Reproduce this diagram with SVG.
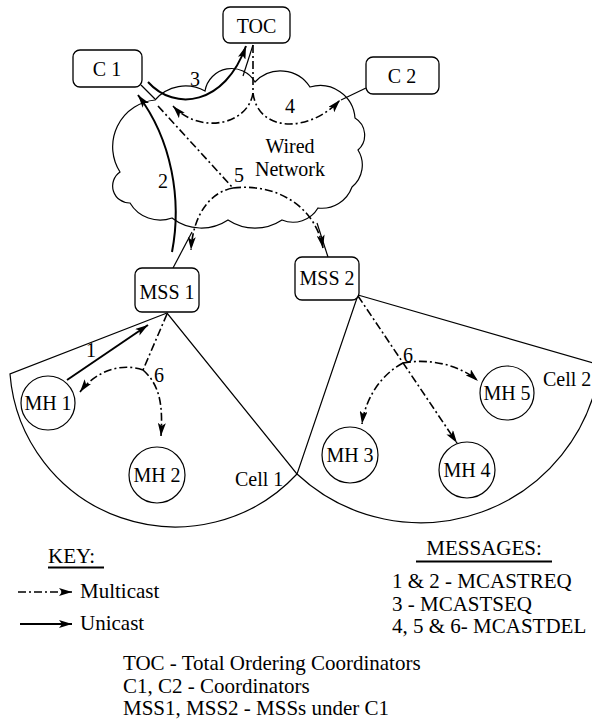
<svg xmlns="http://www.w3.org/2000/svg" width="592" height="727" viewBox="0 0 592 727">
<style>
text{font-family:"Liberation Serif","Times New Roman",serif;fill:#000}
.lbl{font-size:20px;text-anchor:middle}
.leg{font-size:21px}
.box{fill:#fff;stroke:#000;stroke-width:1.3}
.mh{fill:none;stroke:#000;stroke-width:1.2}
.cell{fill:none;stroke:#000;stroke-width:1.2}
.thin{fill:none;stroke:#000;stroke-width:1.2}
.uni{fill:none;stroke:#000;stroke-width:2}
.multi{fill:none;stroke:#000;stroke-width:1.6;stroke-dasharray:8 3 2 3}
</style>
<defs>
<marker id="ah" viewBox="0 0 13 8" refX="13" refY="4" markerWidth="13" markerHeight="8" markerUnits="userSpaceOnUse" orient="auto">
<path d="M0,0 L13,4 L0,8 L3,4 Z" fill="#000"/>
</marker>
</defs>
<rect width="592" height="727" fill="#fff"/>

<g id="cell1"><path class="cell" d="M167,313 L10,374 A166,166 0 0 0 297,474 Z"/>
<text class="leg" x="235" y="486" style="font-size:20px">Cell 1</text></g>
<g id="cell2"><path class="cell" d="M358,295 L600,365 A181,181 0 0 1 297,474 Z"/>
<text class="leg" x="543" y="386" style="font-size:20px">Cell 2</text></g>

<g id="cloud"><path class="thin" d="M130,203 A17,17 0 0 1 120,172 A47,47 0 0 1 155,100 A40,40 0 0 1 205,91 A27,27 0 0 1 255,82 A35,35 0 0 1 310,87 A35,35 0 0 1 355,118 A20,20 0 0 1 358,150 A28.5,28.5 0 0 1 352,187 A32,32 0 0 1 318,208 A29,29 0 0 1 282,220 A49,49 0 0 1 228,220 A48,48 0 0 1 172,218 A35,35 0 0 1 130,203 Z"/>
<text class="lbl" x="290" y="153">Wired</text>
<text class="lbl" x="290" y="176">Network</text></g>

<g id="connectors">
<!-- node to cloud links -->
<line class="thin" x1="141" y1="85" x2="155" y2="99"/>
<line class="thin" x1="253" y1="45" x2="243" y2="76"/>
<line class="thin" x1="366" y1="88" x2="341" y2="100"/>
<line class="thin" x1="173" y1="268" x2="192" y2="232"/>
<line class="thin" x1="328" y1="257" x2="317" y2="223"/>
<!-- 1 -->
<line class="uni" x1="67" y1="380" x2="148" y2="325" marker-end="url(#ah)"/>
<text class="lbl" x="91" y="357">1</text>
<!-- 2 -->
<path class="uni" d="M172,252 C182,200 172,140 138,95" marker-end="url(#ah)"/>
<text class="lbl" x="163" y="188">2</text>
<!-- 3 -->
<path class="uni" d="M148,82 C175,112 225,105 246,46" marker-end="url(#ah)"/>
<text class="lbl" x="195" y="86">3</text>
<!-- 4 -->
<path class="multi" d="M253,45 L253,93"/>
<path class="multi" d="M253,93 C248,125 200,135 173,106" marker-end="url(#ah)"/>
<path class="multi" d="M253,93 C258,133 310,133 340,100" marker-end="url(#ah)"/>
<text class="lbl" x="290" y="113">4</text>
<!-- 5 -->
<path class="multi" d="M158,106 L233,188"/>
<path class="multi" d="M233,188 C210,192 193,215 191,250" marker-end="url(#ah)"/>
<path class="multi" d="M233,188 C275,183 315,205 323,248" marker-end="url(#ah)"/>
<text class="lbl" x="239" y="182">5</text>
<!-- 6 (MSS1) -->
<path class="multi" d="M167,314 L143,370"/>
<path class="multi" d="M143,370 C120,362 95,372 80,392" marker-end="url(#ah)"/>
<path class="multi" d="M143,370 C160,385 163,405 161,436" marker-end="url(#ah)"/>
<text class="lbl" x="159" y="382">6</text>
<!-- 6 (MSS2) -->
<path class="multi" d="M358,296 L457,443" marker-end="url(#ah)"/>
<path class="multi" d="M403,363 C380,375 365,400 362,424" marker-end="url(#ah)"/>
<path class="multi" d="M403,363 C430,358 460,365 478,381" marker-end="url(#ah)"/>
<text class="lbl" x="408" y="362">6</text>
</g>

<g id="TOC"><rect class="box" x="223" y="7" width="67" height="36" rx="7"/><text class="lbl" x="256.5" y="33">TOC</text></g>
<g id="C1"><rect class="box" x="73" y="50" width="69" height="37" rx="7"/><text class="lbl" x="107" y="76">C 1</text></g>
<g id="C2"><rect class="box" x="366" y="57" width="73" height="37" rx="7"/><text class="lbl" x="402" y="83">C 2</text></g>
<g id="MSS1"><rect class="box" x="135" y="268" width="64" height="44" rx="7"/><text class="lbl" x="167" y="299">MSS 1</text></g>
<g id="MSS2"><rect class="box" x="295" y="257" width="64" height="43" rx="7"/><text class="lbl" x="327" y="285">MSS 2</text></g>
<g id="MH1"><circle class="mh" cx="48" cy="403" r="27"/><text class="lbl" x="48" y="410">MH 1</text></g>
<g id="MH2"><circle class="mh" cx="157" cy="475" r="28"/><text class="lbl" x="157" y="482">MH 2</text></g>
<g id="MH3"><circle class="mh" cx="350" cy="455" r="28"/><text class="lbl" x="350" y="462">MH 3</text></g>
<g id="MH4"><circle class="mh" cx="467" cy="470" r="28"/><text class="lbl" x="467" y="477">MH 4</text></g>
<g id="MH5"><circle class="mh" cx="507" cy="393" r="27"/><text class="lbl" x="507" y="400">MH 5</text></g>

<g id="key">
<text class="leg" x="48" y="563">KEY:</text>
<line x1="48" y1="567.5" x2="104" y2="567.5" stroke="#000" stroke-width="2"/>
<line class="multi" x1="18" y1="592" x2="72" y2="592" marker-end="url(#ah)"/>
<text class="leg" x="80" y="598">Multicast</text>
<line class="uni" x1="20" y1="624" x2="72" y2="624" marker-end="url(#ah)"/>
<text class="leg" x="80" y="630">Unicast</text>
</g>
<g id="messages">
<text class="leg" x="484" y="555" text-anchor="middle">MESSAGES:</text>
<line x1="416" y1="561.5" x2="552" y2="561.5" stroke="#000" stroke-width="2"/>
<text class="leg" x="392" y="588">1 &amp; 2 - MCASTREQ</text>
<text class="leg" x="392" y="611">3 - MCASTSEQ</text>
<text class="leg" x="392" y="633">4, 5 &amp; 6- MCASTDEL</text>
</g>
<g id="legend">
<text class="leg" x="123" y="670">TOC - Total Ordering Coordinators</text>
<text class="leg" x="123" y="693">C1, C2 - Coordinators</text>
<text class="leg" x="123" y="715">MSS1, MSS2 - MSSs under C1</text>
</g>
</svg>
